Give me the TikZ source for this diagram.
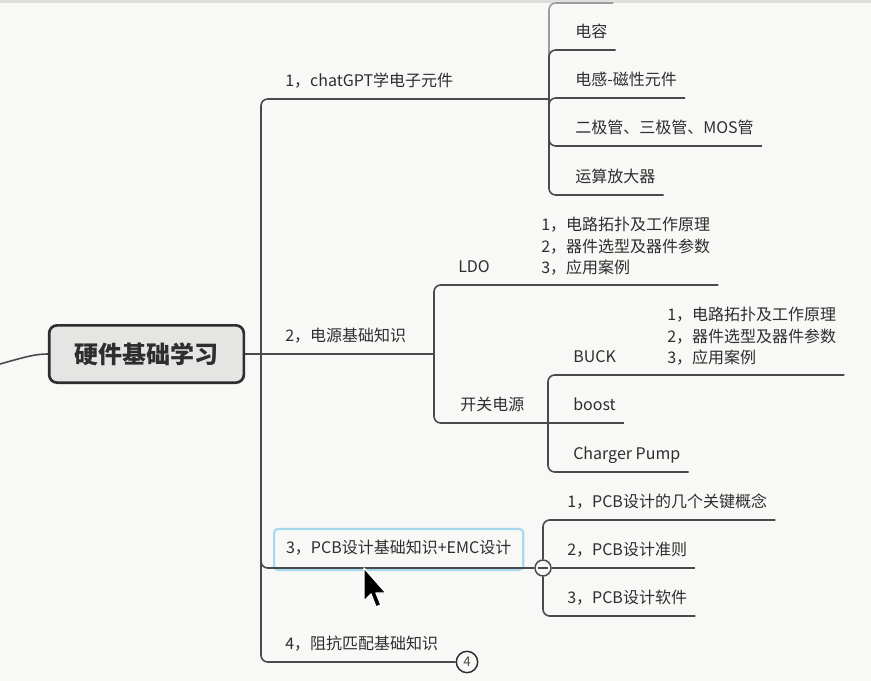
\documentclass[tikz,border=0pt]{standalone}
\usepackage{fontspec}
\setmainfont{Noto Sans CJK SC}
\usepackage{tikz}
\usetikzlibrary{positioning}
\definecolor{ink}{HTML}{2E2E2E}
\definecolor{wire}{HTML}{4A4A4A}
\definecolor{paper}{HTML}{F8F8F6}
\definecolor{rootfill}{HTML}{E5E5E3}
\definecolor{selblue}{HTML}{A6D9EE}
\definecolor{topband}{HTML}{DEDEDC}

\begin{document}
\begin{tikzpicture}[x=0.75pt,y=-0.75pt,
  every node/.style={font=\fontsize{12}{16}\selectfont, text=ink},
  conn/.style={draw=wire, line width=1.2pt, rounded corners=5pt},
  topic/.style={anchor=south west, inner xsep=6pt, inner ysep=6.75pt, text height=9pt, text depth=2.25pt},
  info/.style={anchor=south west, align=left, inner xsep=6pt, inner ysep=7.2pt},
  rootbox/.style={draw=ink, line width=2pt, fill=rootfill, rounded corners=6pt, minimum width=146pt, minimum height=43pt, font=\fontsize{18}{20}\selectfont\bfseries},
  collapse/.style={circle, draw=wire, fill=paper, line width=1.1pt, minimum size=12pt, inner sep=0pt,
    path picture={\draw[wire, line width=1pt] ([xshift=-3.5pt]path picture bounding box.center) -- ([xshift=3.5pt]path picture bounding box.center);}},
  badge/.style={circle, draw=ink, fill=paper, line width=1.1pt, minimum size=16pt, inner sep=0pt, font=\fontsize{10}{10}\selectfont, text=wire}]
  \useasboundingbox (0,0) rectangle (871,681);
  \fill[paper] (0,0) rectangle (871,681);
  \fill[topband] (0,0) rectangle (871,3);

  % root
  \node[rootbox] (root) at (146.5,354) {硬件基础学习};
  \coordinate (tail) at (0,364);
  \draw[conn] (tail) .. controls (25,357) and (35,354) .. (root.west);
  \coordinate (hub) at (261,354);

  % main branches
  \node[topic, inner xsep=9pt] (b1) at (273,99) {1，chatGPT学电子元件};
  \node[topic, inner xsep=9pt] (b2) at (273,354) {2，电源基础知识};
  \node[topic, inner xsep=9pt, inner ysep=9.75pt, draw=selblue, line width=1.6pt, rounded corners=3pt] (b3) at (273,571) {3，PCB设计基础知识+EMC设计};
  \node[topic, inner xsep=9pt] (b4) at (273,662) {4，阻抗匹配基础知识};
  \coordinate (j1) at (549,99);
  \coordinate (j2) at (434,354);
  \node[collapse] (col3) at (543,568) {};
  \node[badge] (cnt) at (467,662) {4};
  \draw[conn] (hub) |- (j1);
  \draw[conn] (root.east) -- (j2);
  \draw[conn] (hub) |- (col3.west);
  \draw[conn] (hub) |- (cnt.west);

  % chatGPT branch
  \coordinate (e0) at (613,3);
  \draw[conn, draw=wire!55] (j1) |- (e0);
  \foreach \i/\lab/\yy in {1/电容/50, 2/电感-磁性元件/98, 3/二极管、三极管、MOS管/146, 4/运算放大器/195}{
    \node[topic] (e\i) at (567,\yy) {\lab};
    \draw[conn] (j1) |- (e\i.south east);
  }

  % power branch
  \node[topic] (ldo) at (450,285) {LDO};
  \node[info] (ldoinfo) at (533,285) {1，电路拓扑及工作原理\\2，器件选型及器件参数\\3，应用案例};
  \node[topic] (kg) at (452,423) {开关电源};
  \coordinate (j3) at (548,423);
  \draw[conn] (j2) |- (ldo.south east) -- (ldoinfo.south east);
  \draw[conn] (j2) |- (j3);
  \node[topic] (buck) at (565,375) {BUCK};
  \node[info] (buckinfo) at (659,375) {1，电路拓扑及工作原理\\2，器件选型及器件参数\\3，应用案例};
  \node[topic] (boost) at (565,423) {boost};
  \node[topic] (pump) at (565,472) {Charger Pump};
  \draw[conn] (j3) |- (buck.south east) -- (buckinfo.south east);
  \draw[conn] (j3) -- (boost.south east);
  \draw[conn] (j3) |- (pump.south east);

  % PCB branch
  \foreach \i/\lab/\yy in {1/1，PCB设计的几个关键概念/520, 2/2，PCB设计准则/568, 3/3，PCB设计软件/616}{
    \node[topic] (p\i) at (559,\yy) {\lab};
  }
  \draw[conn] (col3.north) |- (p1.south east);
  \draw[conn] (col3.east) -- (p2.south east);
  \draw[conn] (col3.south) |- (p3.south east);

  % mouse pointer
  \draw[fill=black, draw=white, line width=1pt, line join=round]
    (364,568) -- (364,601) -- (371,594) -- (376,607) -- (381,605) -- (376,593) -- (386,593) -- cycle;
\end{tikzpicture}
\end{document}
